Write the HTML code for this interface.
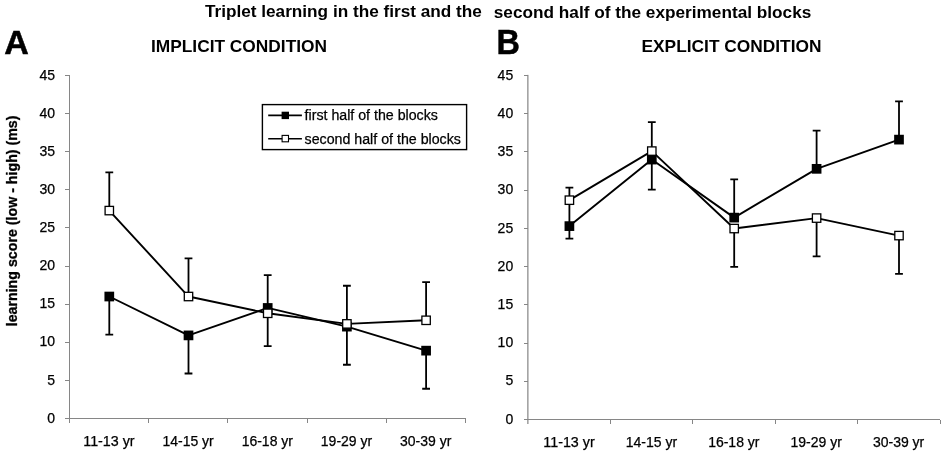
<!DOCTYPE html>
<html lang="en"><head><meta charset="utf-8"><title>Triplet learning</title>
<style>html,body{margin:0;padding:0;background:#fff}svg{display:block}</style></head>
<body>
<svg width="945" height="455" viewBox="0 0 945 455" font-family="'Liberation Sans', Arial, Helvetica, sans-serif">
<rect width="945" height="455" fill="#fff"/>
<g font-weight="bold" fill="#000">
<text x="204.9" y="16.6" font-size="16.5" textLength="277" lengthAdjust="spacingAndGlyphs">Triplet learning in the first and the</text>
<text x="493.8" y="17.6" font-size="16.5" textLength="317.5" lengthAdjust="spacingAndGlyphs">second half of the experimental blocks</text>
<text x="4.2" y="54.2" font-size="34" stroke="#000" stroke-width="0.5">A</text>
<text x="496.6" y="54.3" font-size="35" textLength="23.4" lengthAdjust="spacingAndGlyphs" stroke="#000" stroke-width="0.5">B</text>
<text x="151" y="52" font-size="17" textLength="176" lengthAdjust="spacingAndGlyphs">IMPLICIT CONDITION</text>
<text x="641.5" y="52" font-size="17" textLength="180" lengthAdjust="spacingAndGlyphs">EXPLICIT CONDITION</text>
<text transform="translate(17,326.3) rotate(-90)" font-size="14" stroke="#000" stroke-width="0.3" textLength="210.8" lengthAdjust="spacingAndGlyphs">learning score (low - high) (ms)</text>
</g>
<g stroke="#868686" stroke-width="1" fill="none" shape-rendering="crispEdges">
<line x1="69.5" y1="75.42" x2="69.5" y2="418.5"/>
<line x1="69.5" y1="418.5" x2="465.5" y2="418.5"/>
<line x1="65.0" y1="418.50" x2="69.5" y2="418.50"/>
<line x1="65.0" y1="380.38" x2="69.5" y2="380.38"/>
<line x1="65.0" y1="342.26" x2="69.5" y2="342.26"/>
<line x1="65.0" y1="304.14" x2="69.5" y2="304.14"/>
<line x1="65.0" y1="266.02" x2="69.5" y2="266.02"/>
<line x1="65.0" y1="227.90" x2="69.5" y2="227.90"/>
<line x1="65.0" y1="189.78" x2="69.5" y2="189.78"/>
<line x1="65.0" y1="151.66" x2="69.5" y2="151.66"/>
<line x1="65.0" y1="113.54" x2="69.5" y2="113.54"/>
<line x1="65.0" y1="75.42" x2="69.5" y2="75.42"/>
<line x1="69.50" y1="418.5" x2="69.50" y2="423.0"/>
<line x1="148.70" y1="418.5" x2="148.70" y2="423.0"/>
<line x1="227.90" y1="418.5" x2="227.90" y2="423.0"/>
<line x1="307.10" y1="418.5" x2="307.10" y2="423.0"/>
<line x1="386.30" y1="418.5" x2="386.30" y2="423.0"/>
<line x1="465.50" y1="418.5" x2="465.50" y2="423.0"/>
</g>
<g font-size="14" text-anchor="end" fill="#000" stroke="#000" stroke-width="0.25">
<text x="55.00" y="422.70">0</text>
<text x="55.00" y="384.58">5</text>
<text x="55.00" y="346.46">10</text>
<text x="55.00" y="308.34">15</text>
<text x="55.00" y="270.22">20</text>
<text x="55.00" y="232.10">25</text>
<text x="55.00" y="193.98">30</text>
<text x="55.00" y="155.86">35</text>
<text x="55.00" y="117.74">40</text>
<text x="55.00" y="79.62">45</text>
</g>
<g font-size="14" text-anchor="middle" fill="#000" stroke="#000" stroke-width="0.25">
<text x="108.90" y="445.50" textLength="51.3" lengthAdjust="spacingAndGlyphs">11-13 yr</text>
<text x="188.10" y="445.50" textLength="51.3" lengthAdjust="spacingAndGlyphs">14-15 yr</text>
<text x="267.30" y="445.50" textLength="51.3" lengthAdjust="spacingAndGlyphs">16-18 yr</text>
<text x="346.50" y="445.50" textLength="51.3" lengthAdjust="spacingAndGlyphs">19-29 yr</text>
<text x="425.70" y="445.50" textLength="51.3" lengthAdjust="spacingAndGlyphs">30-39 yr</text>
</g>
<g stroke="#000" stroke-width="1.8" fill="none">
<path d="M109.30 296.52V334.64M105.40 334.64H113.20"/>
<path d="M188.50 335.40V373.52M184.60 373.52H192.40"/>
<path d="M267.70 307.95V346.07M263.80 346.07H271.60"/>
<path d="M346.90 326.63V364.75M343.00 364.75H350.80"/>
<path d="M426.10 350.65V388.77M422.20 388.77H430.00"/>
<path d="M109.30 210.59V172.47M105.40 172.47H113.20"/>
<path d="M188.50 296.52V258.40M184.60 258.40H192.40"/>
<path d="M267.70 313.29V275.17M263.80 275.17H271.60"/>
<path d="M346.90 323.89V285.77M343.00 285.77H350.80"/>
<path d="M426.10 320.30V282.18M422.20 282.18H430.00"/>
</g>
<polyline points="109.30,296.52 188.50,335.40 267.70,307.95 346.90,326.63 426.10,350.65" fill="none" stroke="#000" stroke-width="1.9" stroke-linejoin="round"/>
<polyline points="109.30,210.59 188.50,296.52 267.70,313.29 346.90,323.89 426.10,320.30" fill="none" stroke="#000" stroke-width="1.9" stroke-linejoin="round"/>
<rect x="104.45" y="291.67" width="9.7" height="9.7" fill="#000"/>
<rect x="183.65" y="330.55" width="9.7" height="9.7" fill="#000"/>
<rect x="262.85" y="303.10" width="9.7" height="9.7" fill="#000"/>
<rect x="342.05" y="321.78" width="9.7" height="9.7" fill="#000"/>
<rect x="421.25" y="345.80" width="9.7" height="9.7" fill="#000"/>
<rect x="105.10" y="206.39" width="8.4" height="8.4" fill="#fff" stroke="#000" stroke-width="1.3"/>
<rect x="184.30" y="292.32" width="8.4" height="8.4" fill="#fff" stroke="#000" stroke-width="1.3"/>
<rect x="263.50" y="309.09" width="8.4" height="8.4" fill="#fff" stroke="#000" stroke-width="1.3"/>
<rect x="342.70" y="319.69" width="8.4" height="8.4" fill="#fff" stroke="#000" stroke-width="1.3"/>
<rect x="421.90" y="316.10" width="8.4" height="8.4" fill="#fff" stroke="#000" stroke-width="1.3"/>
<g stroke="#868686" stroke-width="1" fill="none" shape-rendering="crispEdges">
<line x1="527.9" y1="74.88" x2="527.9" y2="424.0" shape-rendering="auto" stroke="#6c6c6c"/>
<line x1="528.0" y1="419.5" x2="940.0" y2="419.5"/>
<line x1="523.5" y1="419.50" x2="528.0" y2="419.50"/>
<line x1="523.5" y1="381.26" x2="528.0" y2="381.26"/>
<line x1="523.5" y1="343.03" x2="528.0" y2="343.03"/>
<line x1="523.5" y1="304.80" x2="528.0" y2="304.80"/>
<line x1="523.5" y1="266.56" x2="528.0" y2="266.56"/>
<line x1="523.5" y1="228.32" x2="528.0" y2="228.32"/>
<line x1="523.5" y1="190.09" x2="528.0" y2="190.09"/>
<line x1="523.5" y1="151.86" x2="528.0" y2="151.86"/>
<line x1="523.5" y1="113.62" x2="528.0" y2="113.62"/>
<line x1="523.5" y1="75.38" x2="528.0" y2="75.38"/>
<line x1="610.40" y1="419.5" x2="610.40" y2="424.0"/>
<line x1="692.80" y1="419.5" x2="692.80" y2="424.0"/>
<line x1="775.20" y1="419.5" x2="775.20" y2="424.0"/>
<line x1="857.60" y1="419.5" x2="857.60" y2="424.0"/>
<line x1="940.00" y1="419.5" x2="940.00" y2="424.0"/>
</g>
<g font-size="14" text-anchor="end" fill="#000" stroke="#000" stroke-width="0.25">
<text x="513.20" y="423.70">0</text>
<text x="513.20" y="385.46">5</text>
<text x="513.20" y="347.23">10</text>
<text x="513.20" y="309.00">15</text>
<text x="513.20" y="270.76">20</text>
<text x="513.20" y="232.52">25</text>
<text x="513.20" y="194.29">30</text>
<text x="513.20" y="156.06">35</text>
<text x="513.20" y="117.82">40</text>
<text x="513.20" y="79.58">45</text>
</g>
<g font-size="14" text-anchor="middle" fill="#000" stroke="#000" stroke-width="0.25">
<text x="569.00" y="447.00" textLength="51.3" lengthAdjust="spacingAndGlyphs">11-13 yr</text>
<text x="651.40" y="447.00" textLength="51.3" lengthAdjust="spacingAndGlyphs">14-15 yr</text>
<text x="733.80" y="447.00" textLength="51.3" lengthAdjust="spacingAndGlyphs">16-18 yr</text>
<text x="816.20" y="447.00" textLength="51.3" lengthAdjust="spacingAndGlyphs">19-29 yr</text>
<text x="898.60" y="447.00" textLength="51.3" lengthAdjust="spacingAndGlyphs">30-39 yr</text>
</g>
<g stroke="#000" stroke-width="1.8" fill="none">
<path d="M569.40 226.11V200.18"/>
<path d="M569.40 226.11V238.57M565.50 238.57H573.30"/>
<path d="M651.80 159.58V189.71M647.90 189.71H655.70"/>
<path d="M734.20 217.62V179.38M730.30 179.38H738.10"/>
<path d="M816.60 168.83V130.60M812.70 130.60H820.50"/>
<path d="M899.00 139.62V101.38M895.10 101.38H902.90"/>
<path d="M569.40 200.18V187.72M565.50 187.72H573.30"/>
<path d="M651.80 151.09V122.03M647.90 122.03H655.70"/>
<path d="M734.20 228.55V266.79M730.30 266.79H738.10"/>
<path d="M816.60 218.08V256.31M812.70 256.31H820.50"/>
<path d="M899.00 235.59V273.82M895.10 273.82H902.90"/>
</g>
<polyline points="569.40,226.11 651.80,159.58 734.20,217.62 816.60,168.83 899.00,139.62" fill="none" stroke="#000" stroke-width="1.9" stroke-linejoin="round"/>
<polyline points="569.40,200.18 651.80,151.09 734.20,228.55 816.60,218.08 899.00,235.59" fill="none" stroke="#000" stroke-width="1.9" stroke-linejoin="round"/>
<rect x="564.55" y="221.26" width="9.7" height="9.7" fill="#000"/>
<rect x="646.95" y="154.73" width="9.7" height="9.7" fill="#000"/>
<rect x="729.35" y="212.77" width="9.7" height="9.7" fill="#000"/>
<rect x="811.75" y="163.98" width="9.7" height="9.7" fill="#000"/>
<rect x="894.15" y="134.77" width="9.7" height="9.7" fill="#000"/>
<rect x="565.20" y="195.98" width="8.4" height="8.4" fill="#fff" stroke="#000" stroke-width="1.3"/>
<rect x="647.60" y="146.89" width="8.4" height="8.4" fill="#fff" stroke="#000" stroke-width="1.3"/>
<rect x="730.00" y="224.35" width="8.4" height="8.4" fill="#fff" stroke="#000" stroke-width="1.3"/>
<rect x="812.40" y="213.88" width="8.4" height="8.4" fill="#fff" stroke="#000" stroke-width="1.3"/>
<rect x="894.80" y="231.39" width="8.4" height="8.4" fill="#fff" stroke="#000" stroke-width="1.3"/>
<rect x="262.4" y="104.6" width="204.2" height="45" fill="#fff" stroke="#000" stroke-width="1.4"/>
<g stroke="#000" stroke-width="1.6"><line x1="268.2" y1="115.4" x2="301.9" y2="115.4"/><line x1="268.2" y1="138.7" x2="301.9" y2="138.7"/></g>
<rect x="281.6" y="111.7" width="7.4" height="7.4" fill="#000"/>
<rect x="282.1" y="135.4" width="6.4" height="6.4" fill="#fff" stroke="#000" stroke-width="1.1"/>
<g font-size="14" fill="#000" stroke="#000" stroke-width="0.25"><text x="304.6" y="120.4" textLength="133.3" lengthAdjust="spacingAndGlyphs">first half of the blocks</text><text x="304.6" y="143.6" textLength="156.3" lengthAdjust="spacingAndGlyphs">second half of the blocks</text></g>
</svg>
</body></html>
